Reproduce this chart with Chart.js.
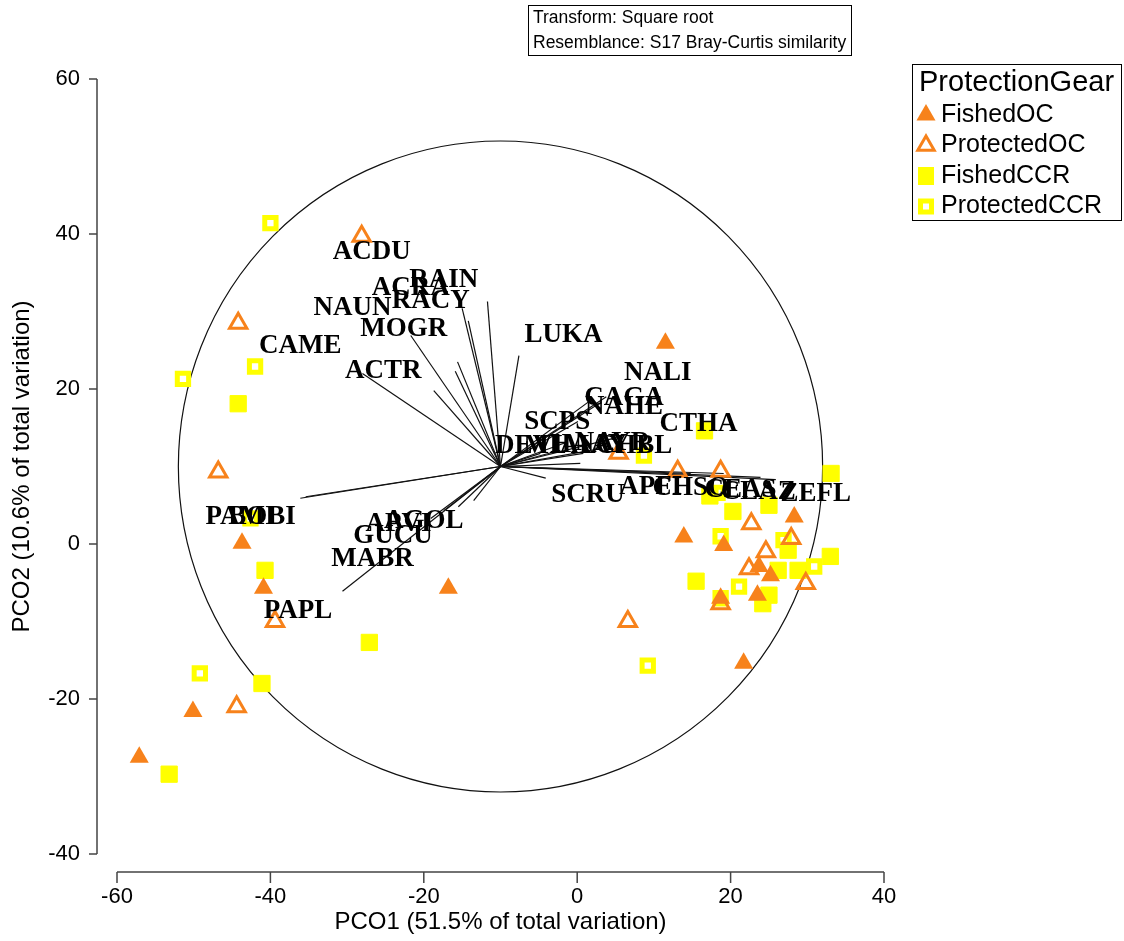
<!DOCTYPE html>
<html>
<head>
<meta charset="utf-8">
<script src="https://cdn.jsdelivr.net/npm/chart.js@4.4.1/dist/chart.umd.min.js"></script>
<style>
  html, body { margin: 0; padding: 0; background: #fff; }
  #wrap { position: relative; width: 1124px; height: 941px; }
</style>
</head>
<body>
<div id="wrap"><canvas id="pco" width="1124" height="941"></canvas></div>
<script>
// PCO ordination scores
const seriesNames = ['FishedOC', 'ProtectedOC', 'FishedCCR', 'ProtectedCCR'];

const fishedOC = [
  [11.5, 25.9], [-57.1, -27.5], [-50.1, -21.6], [-43.7, 0.1], [-40.9, -5.7], [-16.8, -5.7],
  [13.9, 0.9], [19.1, -0.2], [28.3, 3.5], [21.7, -15.4], [23.7, -2.9], [25.2, -4.1],
  [23.5, -6.6], [18.7, -7.0]
];
const protectedOC = [
  [-28.1, 39.7], [-44.2, 28.5], [-46.8, 9.3], [-39.4, -10.0], [-44.4, -21.0], [6.6, -10.0],
  [5.4, 11.7], [13.1, 9.4], [18.7, 9.4], [22.7, 2.6], [27.9, 0.7], [24.6, -1.0],
  [22.4, -3.2], [29.8, -5.1], [18.7, -7.7]
];
const fishedCCR = [
  [-44.2, 18.1], [-40.7, -3.4], [-41.1, -18.0], [-27.1, -12.7], [-53.2, -29.7], [16.6, 14.6],
  [33.1, 9.1], [15.5, -4.8], [20.3, 4.2], [25.0, 5.0], [33.0, -1.6], [27.5, -0.8],
  [28.8, -3.4], [26.2, -3.4], [25.0, -6.6], [24.2, -7.7], [17.3, 6.2]
];
const protectedCCR = [
  [-40.0, 41.4], [-51.4, 21.3], [-42.0, 22.9], [-49.2, -16.7], [-42.6, 3.3], [8.7, 11.4],
  [9.2, -15.7], [18.7, 1.0], [26.9, 0.5], [21.1, -5.5], [18.7, -7.0], [30.9, -2.9], [18.3, 6.6]
];

// species vectors (correlation overlay)
const vectorOrigin = [-10, 10];
const circleRadius = 42;
const vectorNames = ['ACDU', 'RAIN', 'ACRA', 'RACY', 'NAUN', 'MOGR', 'CAME', 'ACTR',
  'LUKA', 'NALI', 'CAGA', 'NAHE', 'SCPS', 'CTHA', 'DEVI', 'MIAL', 'HAAY', 'NAYR', 'CHBL',
  'SCRU', 'APFI', 'CHSO', 'CLAZ', 'CEAS', 'ZEFL', 'PAMI', 'BOBI', 'AGOL', 'APVI', 'GUCU',
  'MABR', 'PAPL'];
const vectorEndX = [-15.9, -11.7, -15.0, -14.2, -18.7, -21.7, -28.0, -15.6,
  -7.6, 3.8, 1.7, 2.8, 0.1, 4.6, -4.8, -2.2, 0.8, 3.1, -1.2,
  -4.1, 14.8, 19.1, 0.4, 23.9, 25.9, -36.1, -35.4, -13.5, -15.5, -17.4,
  -19.1, -30.6];
const vectorEndY = [22.3, 31.3, 30.4, 28.8, 19.8, 26.9, 22.0, 23.5,
  24.3, 19.0, 18.5, 18.1, 15.8, 13.6, 11.7, 12.1, 11.7, 12.3, 13.2,
  8.5, 9.1, 9.1, 10.4, 8.6, 8.3, 5.9, 6.1, 5.6, 4.8, 4.3,
  3.3, -6.1];
const labelX = [-26.8, -17.4, -21.7, -19.1, -29.3, -22.6, -36.1, -25.3,
  -1.8, 10.5, 6.1, 6.1, -2.6, 15.8, -6.3, -2.2, 1.5, 4.6, 7.4,
  1.4, 9.6, 14.8, 23.6, 21.3, 31.1, -43.9, -41.1, -20.0, -23.3, -24.0,
  -26.7, -36.4];
const labelY = [37.7, 34.0, 33.0, 31.4, 30.4, 27.8, 25.5, 22.3,
  26.9, 22.0, 18.8, 17.7, 15.8, 15.5, 12.6, 12.7, 12.8, 13.0, 12.6,
  6.3, 7.4, 7.2, 6.7, 6.9, 6.5, 3.5, 3.5, 3.0, 2.6, 1.0,
  -1.9, -8.6];

const xTicks = [-60, -40, -20, 0, 20, 40];
const yTicks = [-40, -20, 0, 20, 40, 60];
const noteLines = ['Transform: Square root', 'Resemblance: S17 Bray-Curtis similarity'];

const ORANGE = '#F7821B';
const YELLOW = '#FFFF00';
const SANS = '"Liberation Sans", Arial, sans-serif';

function toPoints(arr) {
  return arr.map(p => ({ x: p[0], y: p[1] }));
}

function drawMarker(ctx, style, x, y) {
  ctx.save();
  if (style === 'triFill' || style === 'triOpen') {
    const r = style === 'triFill' ? 11 : 9.5;
    ctx.beginPath();
    ctx.moveTo(x, y - r);
    ctx.lineTo(x + r * 0.866, y + r * 0.5);
    ctx.lineTo(x - r * 0.866, y + r * 0.5);
    ctx.closePath();
    if (style === 'triFill') { ctx.fillStyle = ORANGE; ctx.fill(); }
    else { ctx.strokeStyle = ORANGE; ctx.lineWidth = 3; ctx.stroke(); }
  } else if (style === 'sqFill') {
    ctx.fillStyle = YELLOW;
    ctx.fillRect(x - 8, y - 9, 16, 18);
  } else {
    ctx.strokeStyle = YELLOW;
    ctx.lineWidth = 5;
    ctx.strokeRect(x - 5.5, y - 5.5, 11, 11);
  }
  ctx.restore();
}

const biplotPlugin = {
  id: 'biplot',
  beforeDatasetsDraw(chart) {
    const { ctx, scales: { x, y } } = chart;
    const cx = x.getPixelForValue(vectorOrigin[0]);
    const cy = y.getPixelForValue(vectorOrigin[1]);
    const rx = x.getPixelForValue(vectorOrigin[0] + circleRadius) - cx;
    const ry = cy - y.getPixelForValue(vectorOrigin[1] + circleRadius);
    ctx.save();
    ctx.strokeStyle = '#111';
    ctx.lineWidth = 1.2;
    ctx.beginPath();
    ctx.ellipse(cx, cy, rx, ry, 0, 0, Math.PI * 2);
    ctx.stroke();
    vectorNames.forEach((name, i) => {
      ctx.beginPath();
      ctx.moveTo(cx, cy);
      ctx.lineTo(x.getPixelForValue(vectorEndX[i]), y.getPixelForValue(vectorEndY[i]));
      ctx.stroke();
    });
    ctx.restore();
  },
  afterDatasetsDraw(chart) {
    const { ctx, scales: { x, y } } = chart;
    ctx.save();
    ctx.fillStyle = '#000';
    ctx.font = 'bold 27px "Liberation Serif", "Times New Roman", serif';
    ctx.textAlign = 'center';
    ctx.textBaseline = 'middle';
    vectorNames.forEach((name, i) => {
      ctx.fillText(name, x.getPixelForValue(labelX[i]), y.getPixelForValue(labelY[i]));
    });
    ctx.restore();
  },
  afterDraw(chart) {
    const { ctx, chartArea, scales: { x, y } } = chart;
    ctx.save();
    // detached axes
    ctx.strokeStyle = '#444';
    ctx.lineWidth = 1.5;
    const axY = chartArea.bottom + 18;
    const axX = chartArea.left - 20;
    ctx.beginPath();
    ctx.moveTo(x.getPixelForValue(xTicks[0]), axY);
    ctx.lineTo(x.getPixelForValue(xTicks[xTicks.length - 1]), axY);
    xTicks.forEach(v => {
      const px = x.getPixelForValue(v);
      ctx.moveTo(px, axY);
      ctx.lineTo(px, axY + 11);
    });
    ctx.moveTo(axX, y.getPixelForValue(yTicks[0]));
    ctx.lineTo(axX, y.getPixelForValue(yTicks[yTicks.length - 1]));
    yTicks.forEach(v => {
      const py = y.getPixelForValue(v);
      ctx.moveTo(axX, py);
      ctx.lineTo(axX - 8, py);
    });
    ctx.stroke();

    // transform note
    ctx.strokeStyle = '#000';
    ctx.lineWidth = 1;
    ctx.strokeRect(528.5, 5.5, 323, 50);
    ctx.fillStyle = '#000';
    ctx.font = '17.5px ' + SANS;
    ctx.textAlign = 'left';
    ctx.textBaseline = 'middle';
    ctx.fillText(noteLines[0], 533, 18);
    ctx.fillText(noteLines[1], 533, 43);

    // legend
    ctx.strokeRect(912.5, 64.5, 209, 156);
    ctx.font = '29px ' + SANS;
    ctx.fillText('ProtectionGear', 919, 83);
    const styles = ['triFill', 'triOpen', 'sqFill', 'sqOpen'];
    ctx.font = '25px ' + SANS;
    seriesNames.forEach((name, i) => {
      const ly = 115 + i * 30.5;
      drawMarker(ctx, styles[i], 926, ly);
      ctx.fillStyle = '#000';
      ctx.fillText(name, 941, ly);
    });
    ctx.restore();
  }
};

const ctx = document.getElementById('pco').getContext('2d');
new Chart(ctx, {
  type: 'scatter',
  data: {
    datasets: [
      { label: seriesNames[0], data: toPoints(fishedOC), pointStyle: 'triangle', pointRadius: 11,
        backgroundColor: ORANGE, borderColor: ORANGE, borderWidth: 0 },
      { label: seriesNames[1], data: toPoints(protectedOC), pointStyle: 'triangle', pointRadius: 10,
        backgroundColor: 'rgba(255,255,255,0)', borderColor: ORANGE, borderWidth: 3 },
      { label: seriesNames[2], data: toPoints(fishedCCR), pointStyle: 'rect', pointRadius: 11.5,
        backgroundColor: YELLOW, borderColor: YELLOW, borderWidth: 1 },
      { label: seriesNames[3], data: toPoints(protectedCCR), pointStyle: 'rect', pointRadius: 8,
        backgroundColor: 'rgba(255,255,255,0)', borderColor: YELLOW, borderWidth: 5 }
    ]
  },
  options: {
    responsive: false,
    animation: false,
    events: [],
    layout: { padding: { left: 0, right: 240, top: 79, bottom: 0 } },
    plugins: { legend: { display: false }, tooltip: { enabled: false } },
    scales: {
      x: {
        type: 'linear', min: -60, max: 40,
        afterBuildTicks: s => { s.ticks = xTicks.map(v => ({ value: v })); },
        afterFit: s => { s.height = 87; },
        grid: { display: false, drawTicks: false },
        border: { display: false },
        ticks: { padding: 30, color: '#000', maxRotation: 0, font: { family: SANS, size: 22 } },
        title: { display: true, text: 'PCO1 (51.5% of total variation)', color: '#000',
          font: { family: SANS, size: 24 }, padding: { top: 0, bottom: 4 } }
      },
      y: {
        type: 'linear', min: -40, max: 60,
        afterBuildTicks: s => { s.ticks = yTicks.map(v => ({ value: v })); },
        afterFit: s => { s.width = 117; },
        grid: { display: false, drawTicks: false },
        border: { display: false },
        ticks: { padding: 37, color: '#000', font: { family: SANS, size: 22 } },
        title: { display: true, text: 'PCO2 (10.6% of total variation)', color: '#000',
          font: { family: SANS, size: 24 }, padding: { top: 8, bottom: 0 } }
      }
    }
  },
  plugins: [biplotPlugin]
});
</script>
</body>
</html>
